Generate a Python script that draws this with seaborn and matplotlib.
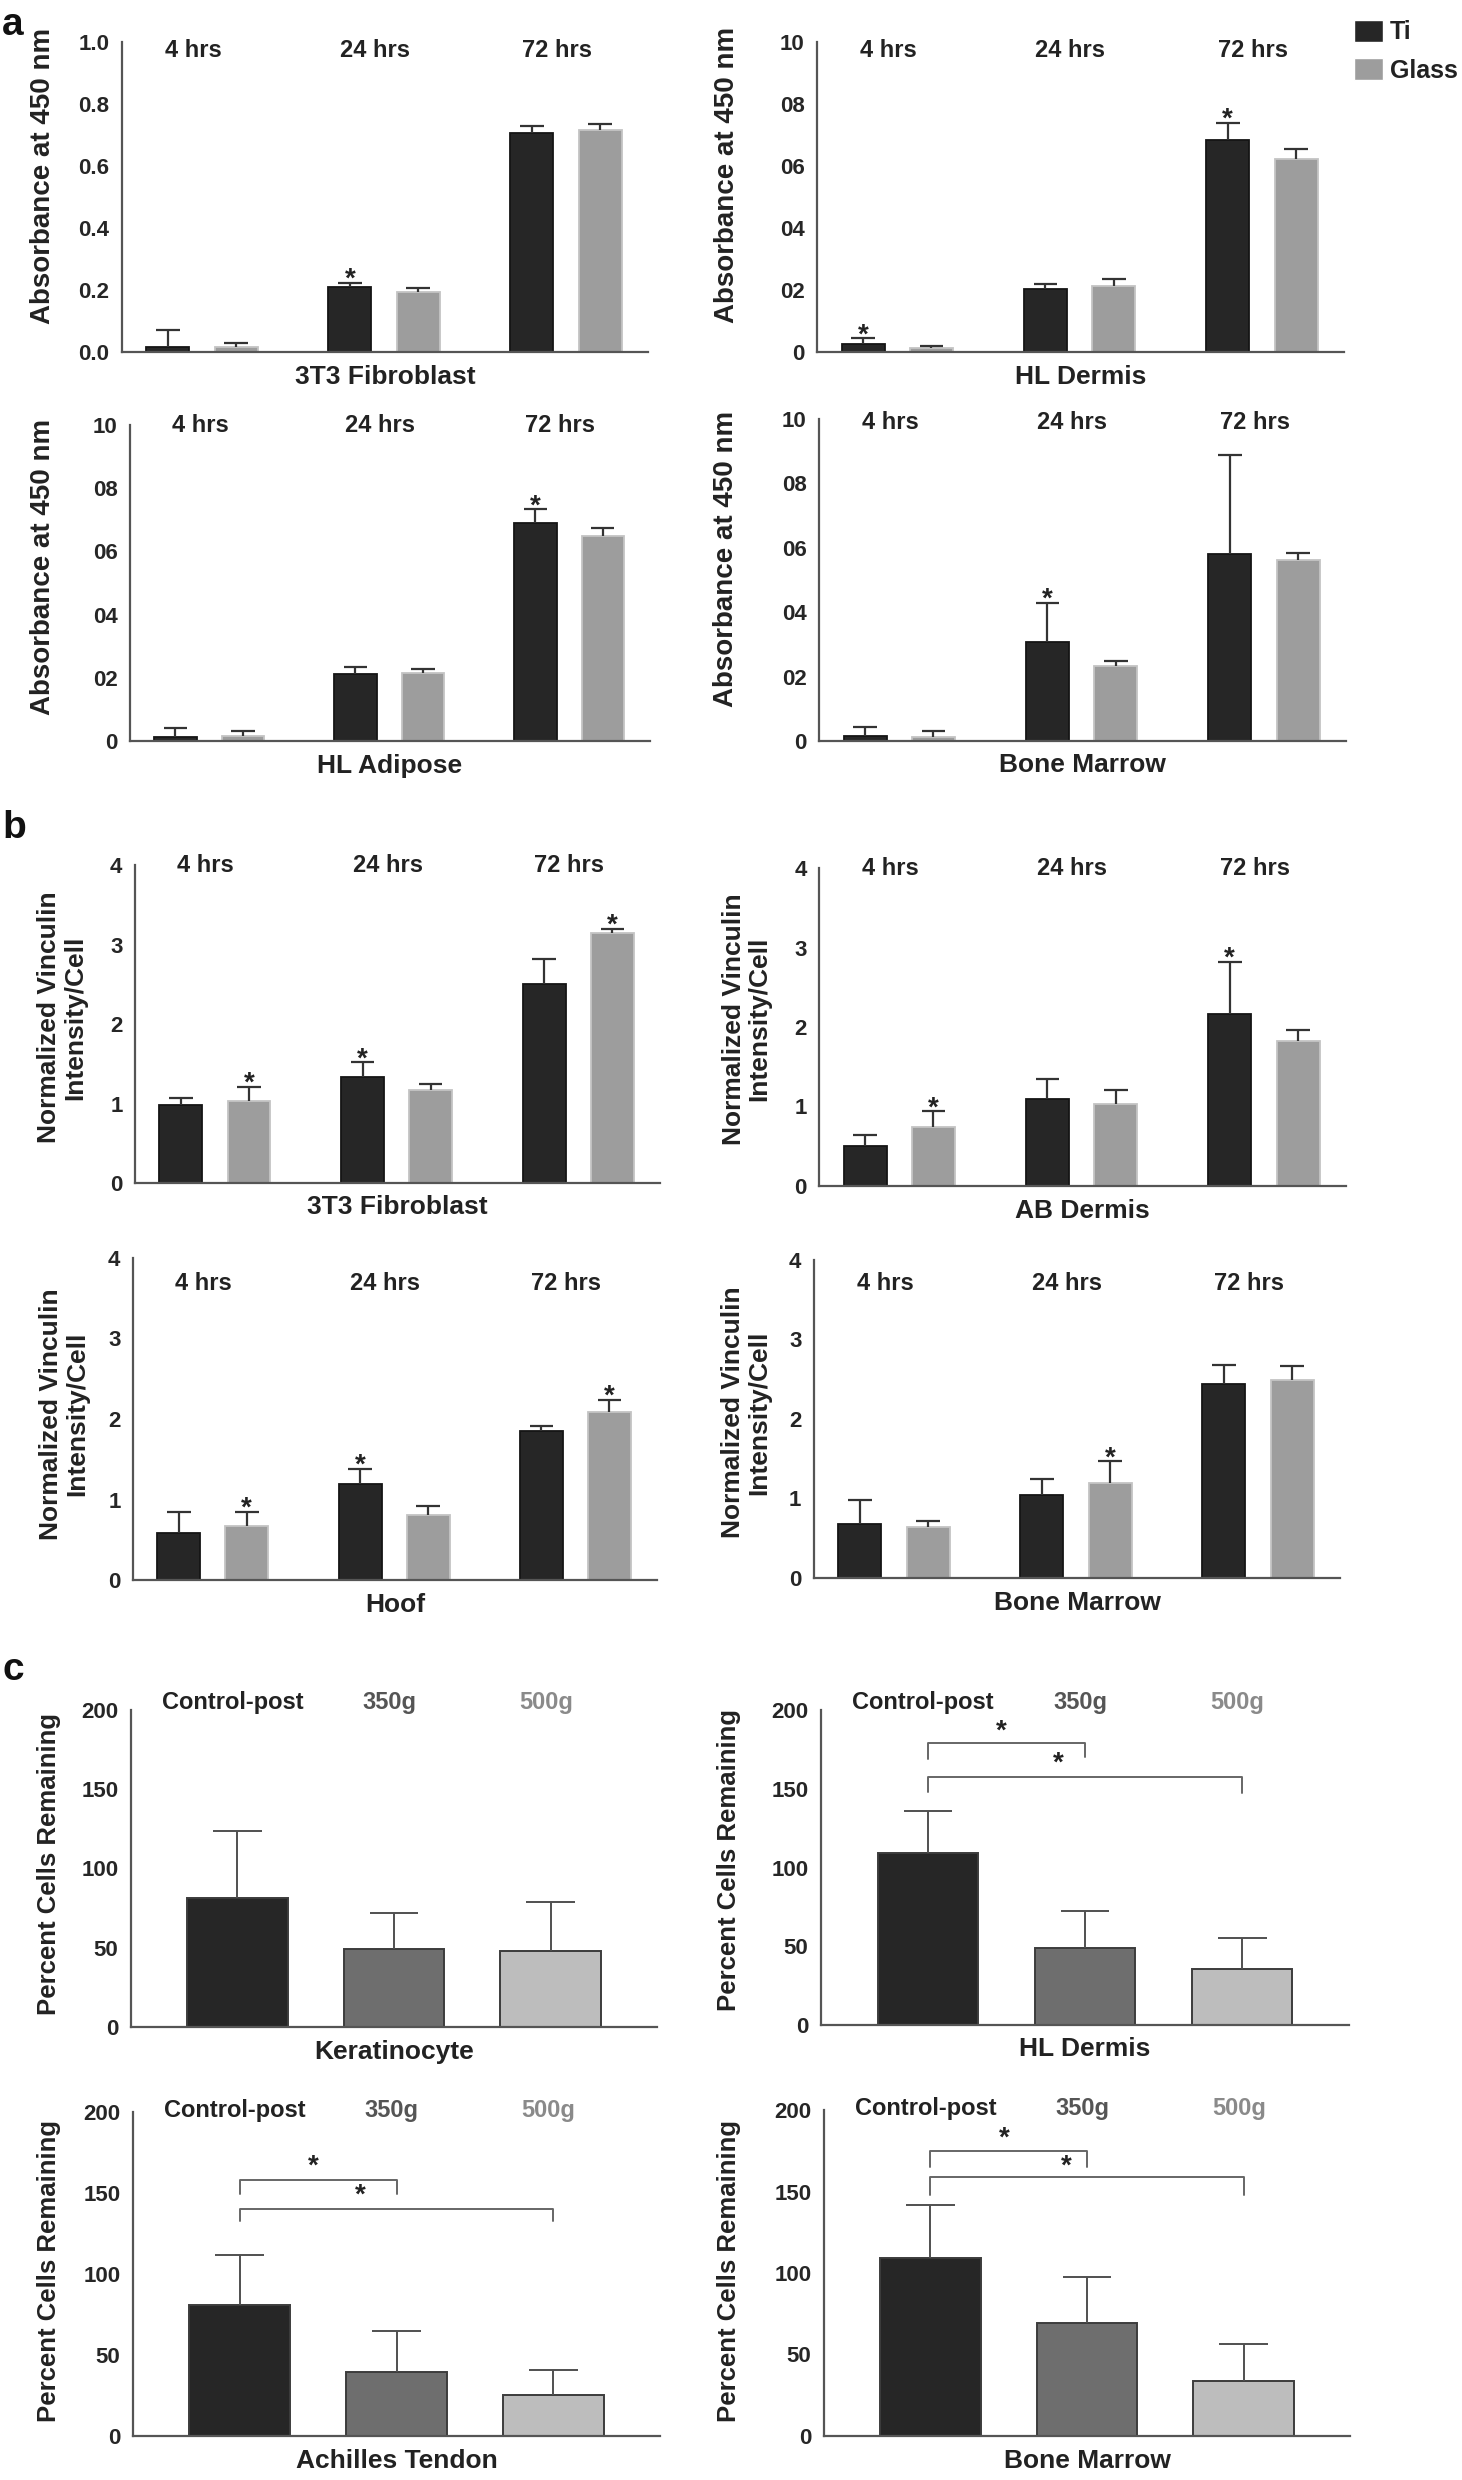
import matplotlib
matplotlib.use("Agg")
import numpy as np
import pandas as pd
import matplotlib.pyplot as plt
import seaborn as sns

sns.set_style("white")
plt.rcParams['font.family'] = ['Liberation Sans', 'DejaVu Sans']
plt.rcParams['font.weight'] = 'bold'
plt.rcParams['axes.labelweight'] = 'bold'
plt.rcParams['text.color'] = '#222222'
plt.rcParams['axes.labelcolor'] = '#222222'

times = ['4 hrs', '24 hrs', '72 hrs']
surfaces = ['Ti', 'Glass']
doses = ['Control-post', '350g', '500g']

# (a) absorbance at 450 nm - mean and upper SD
fib_abs_ti = [0.015, 0.210, 0.705]
fib_abs_ti_sd = [0.057, 0.014, 0.025]
fib_abs_glass = [0.015, 0.195, 0.715]
fib_abs_glass_sd = [0.014, 0.010, 0.020]

hld_abs_ti = [0.025, 0.203, 0.685]
hld_abs_ti_sd = [0.019, 0.015, 0.054]
hld_abs_glass = [0.014, 0.214, 0.624]
hld_abs_glass_sd = [0.006, 0.021, 0.032]

hla_abs_ti = [0.014, 0.212, 0.689]
hla_abs_ti_sd = [0.026, 0.023, 0.045]
hla_abs_glass = [0.016, 0.214, 0.650]
hla_abs_glass_sd = [0.016, 0.013, 0.023]

bm_abs_ti = [0.016, 0.307, 0.581]
bm_abs_ti_sd = [0.026, 0.123, 0.308]
bm_abs_glass = [0.012, 0.233, 0.562]
bm_abs_glass_sd = [0.019, 0.017, 0.021]

# (b) normalized vinculin intensity / cell
fib_vin_ti = [0.976, 1.33, 2.50]
fib_vin_ti_sd = [0.094, 0.19, 0.32]
fib_vin_glass = [1.03, 1.17, 3.15]
fib_vin_glass_sd = [0.18, 0.07, 0.05]

abd_vin_ti = [0.50, 1.10, 2.16]
abd_vin_ti_sd = [0.14, 0.25, 0.66]
abd_vin_glass = [0.74, 1.03, 1.82]
abd_vin_glass_sd = [0.20, 0.18, 0.14]

hoof_vin_ti = [0.59, 1.19, 1.85]
hoof_vin_ti_sd = [0.25, 0.19, 0.06]
hoof_vin_glass = [0.67, 0.81, 2.09]
hoof_vin_glass_sd = [0.18, 0.11, 0.15]

bm_vin_ti = [0.68, 1.05, 2.44]
bm_vin_ti_sd = [0.30, 0.20, 0.24]
bm_vin_glass = [0.64, 1.19, 2.49]
bm_vin_glass_sd = [0.08, 0.28, 0.18]

# (c) percent cells remaining
kera_pct = [81.7, 49.5, 48.0]
kera_pct_sd = [42.0, 22.7, 31.0]
hld_pct = [109.4, 48.7, 35.6]
hld_pct_sd = [26.5, 23.7, 19.4]
ach_pct = [80.8, 39.3, 25.5]
ach_pct_sd = [31.2, 25.4, 15.2]
bm_pct = [108.9, 69.6, 33.8]
bm_pct_sd = [32.8, 28.0, 22.9]

abs_ticks = [0, 0.2, 0.4, 0.6, 0.8, 1.0]
abs_labels_fib = ['0.0', '0.2', '0.4', '0.6', '0.8', '1.0']
abs_labels_other = ['0', '02', '04', '06', '08', '10']
vin_ticks = [0, 1, 2, 3, 4]
pct_ticks = [0, 50, 100, 150, 200]

TI_COLOR = '#262626'
GLASS_COLOR = '#9d9d9d'
DOSE_COLORS = ['#262626', '#6e6e6e', '#bdbdbd']
DOSE_TEXT = ['#222222', '#555555', '#8a8a8a']
SPINE = '#555555'

W, H = 1462, 2480
fig = plt.figure(figsize=(W / 100, H / 100), dpi=100)


def box(x0, x1, ytop, ybot):
    return fig.add_axes([x0 / W, 1 - ybot / H, (x1 - x0) / W, (ybot - ytop) / H])


def style(ax, ticks, ticklabels, xlabel, ylabel, ylab_xy, ylab_size):
    sns.despine(ax=ax)
    for s in ['left', 'bottom']:
        ax.spines[s].set_color(SPINE)
        ax.spines[s].set_linewidth(1.6)
    ax.set_yticks(ticks)
    ax.set_yticklabels(ticklabels)
    ax.set_ylim(ticks[0], ticks[-1])
    ax.set_xticks([])
    ax.tick_params(axis='y', length=7, width=1.5, color=SPINE, labelsize=16, pad=2)
    ax.set_xlabel(xlabel, fontsize=19, labelpad=9)
    ax.set_ylabel(ylabel, fontsize=ylab_size, linespacing=1.1)
    ax.yaxis.set_label_coords(*ylab_xy)


def whiskers(ax, bars, sds, cap, color, lw):
    tops = []
    for p, sd in zip(bars, sds):
        xc = p.get_x() + p.get_width() / 2
        top = p.get_height()
        ax.vlines(xc, top, top + sd, color=color, lw=lw, zorder=1)
        ax.hlines(top + sd, xc - cap / 2, xc + cap / 2, color=color, lw=lw, zorder=3)
        tops.append((xc, top + sd))
    return tops


def time_panel(ax, ti, ti_sd, gl, gl_sd, stars, ticks, ticklabels, label_y,
               xlabel, ylabel, ylab_xy, legend=False):
    df = pd.DataFrame({'time': times * 2,
                       'surface': ['Ti'] * 3 + ['Glass'] * 3,
                       'value': ti + gl})
    sns.barplot(data=df, x='time', y='value', hue='surface', order=times,
                hue_order=surfaces, palette=[TI_COLOR, GLASS_COLOR], saturation=1,
                width=0.75, gap=0.37, errorbar=None, legend=legend, ax=ax)
    edges = ['#151515', '#c4c4c4']
    tops = []
    for k, (cont, sds) in enumerate(zip(ax.containers, [ti_sd, gl_sd])):
        for p in cont.patches:
            p.set_edgecolor(edges[k])
            p.set_linewidth(1.3)
        tops.append(whiskers(ax, cont.patches, sds, 0.13, '#333333', 1.6))
    for k, j in stars:
        xc, yt = tops[k][j]
        ax.annotate('*', (xc, yt), xytext=(0, -3), textcoords='offset points',
                    ha='center', va='baseline', fontsize=20)
    for j, t in enumerate(times):
        ax.text(j - 0.05, label_y, t, ha='center', va='center', fontsize=17)
    ax.set_xlim(-0.44, 2.45)
    size = 20 if '\n' not in ylabel else 19
    style(ax, ticks, ticklabels, xlabel, ylabel, ylab_xy, size)


def dose_panel(ax, vals, sds, brackets, label_y, xlabel, ylab_xy):
    sns.barplot(x=doses, y=vals, hue=doses, order=doses, hue_order=doses,
                palette=DOSE_COLORS, saturation=1, width=0.64, errorbar=None,
                legend=False, ax=ax)
    bars = sorted(ax.patches, key=lambda p: p.get_x())
    for p in bars:
        p.set_edgecolor('#3c3c3c')
        p.set_linewidth(1.4)
    whiskers(ax, bars, sds, 0.31, '#505050', 1.4)
    for x1, y, leg0, leg1, sx, sy in brackets:
        ax.plot([0, 0, x1, x1], [leg0, y, y, leg1], color='#666666', lw=1.4)
        ax.text(sx, sy, '*', ha='center', va='center', fontsize=20)
    for j, d in enumerate(doses):
        ax.text(j - 0.03, label_y, d, ha='center', va='center', fontsize=17,
                color=DOSE_TEXT[j])
    ax.set_xlim(-0.68, 2.68)
    style(ax, pct_ticks, [str(t) for t in pct_ticks], xlabel,
          'Percent Cells Remaining', ylab_xy, 18.5)


abs_label = 'Absorbance at 450 nm'
vin_label = 'Normalized Vinculin\nIntensity/Cell'

# ---- panel a
ax = box(122, 648, 42, 352)
time_panel(ax, fib_abs_ti, fib_abs_ti_sd, fib_abs_glass, fib_abs_glass_sd, [(0, 1)],
           abs_ticks, abs_labels_fib, 0.974, '3T3 Fibroblast', abs_label, (-0.125, 0.568))
ax = box(817, 1344, 42, 352)
time_panel(ax, hld_abs_ti, hld_abs_ti_sd, hld_abs_glass, hld_abs_glass_sd, [(0, 0), (0, 2)],
           abs_ticks, abs_labels_other, 0.974, 'HL Dermis', abs_label, (-0.147, 0.57),
           legend=True)
sns.move_legend(ax, 'upper left', bbox_to_anchor=(1354 / W, 1 - 20 / H),
                bbox_transform=fig.transFigure, frameon=False, title=None,
                fontsize=18, handlelength=1.15, handleheight=0.95,
                handletextpad=0.3, labelspacing=0.55, borderpad=0, borderaxespad=0)
ax = box(130, 650, 425, 741)
time_panel(ax, hla_abs_ti, hla_abs_ti_sd, hla_abs_glass, hla_abs_glass_sd, [(0, 2)],
           abs_ticks, abs_labels_other, 1.0, 'HL Adipose', abs_label, (-0.142, 0.55))
ax = box(819, 1346, 419, 741)
time_panel(ax, bm_abs_ti, bm_abs_ti_sd, bm_abs_glass, bm_abs_glass_sd, [(0, 1)],
           abs_ticks, abs_labels_other, 0.99, 'Bone Marrow', abs_label, (-0.151, 0.564))

# ---- panel b
ax = box(135, 660, 865, 1183)
time_panel(ax, fib_vin_ti, fib_vin_ti_sd, fib_vin_glass, fib_vin_glass_sd,
           [(1, 0), (0, 1), (1, 2)], vin_ticks, [str(t) for t in vin_ticks], 4.0,
           '3T3 Fibroblast', vin_label, (-0.091, 0.52))
ax = box(819, 1346, 868, 1186)
time_panel(ax, abd_vin_ti, abd_vin_ti_sd, abd_vin_glass, abd_vin_glass_sd,
           [(1, 0), (0, 2)], vin_ticks, [str(t) for t in vin_ticks], 4.0,
           'AB Dermis', vin_label, (-0.09, 0.525))
ax = box(133, 657, 1258, 1580)
time_panel(ax, hoof_vin_ti, hoof_vin_ti_sd, hoof_vin_glass, hoof_vin_glass_sd,
           [(1, 0), (0, 1), (1, 2)], vin_ticks, [str(t) for t in vin_ticks], 3.68,
           'Hoof', vin_label, (-0.084, 0.515))
ax = box(814, 1340, 1260, 1578)
time_panel(ax, bm_vin_ti, bm_vin_ti_sd, bm_vin_glass, bm_vin_glass_sd,
           [(1, 1)], vin_ticks, [str(t) for t in vin_ticks], 3.7,
           'Bone Marrow', vin_label, (-0.081, 0.52))

# ---- panel c
ax = box(131, 657, 1710, 2027)
dose_panel(ax, kera_pct, kera_pct_sd, [], 205, 'Keratinocyte', (-0.133, 0.514))
ax = box(821, 1349, 1710, 2025)
dose_panel(ax, hld_pct, hld_pct_sd,
           [(1, 178.8, 169, 170, 0.47, 186), (2, 157.7, 148, 147, 0.83, 166)],
           205, 'HL Dermis', (-0.151, 0.524))
ax = box(133, 660, 2112, 2436)
dose_panel(ax, ach_pct, ach_pct_sd,
           [(1, 157.9, 149.6, 149.6, 0.47, 166), (2, 140.4, 133, 133, 0.77, 148.6)],
           201, 'Achilles Tendon', (-0.136, 0.51))
ax = box(824, 1350, 2110, 2436)
dose_panel(ax, bm_pct, bm_pct_sd,
           [(1, 175, 165, 165, 0.47, 182.6), (2, 158.6, 147.8, 147.8, 0.87, 165)],
           201, 'Bone Marrow', (-0.157, 0.506))

# panel letters
for letter, base in [('a', 35), ('b', 838), ('c', 1680)]:
    fig.text(2 / W, 1 - base / H, letter, fontsize=28, fontweight='bold',
             ha='left', va='baseline', color='#111111')

fig.savefig('out.png', dpi=100)
